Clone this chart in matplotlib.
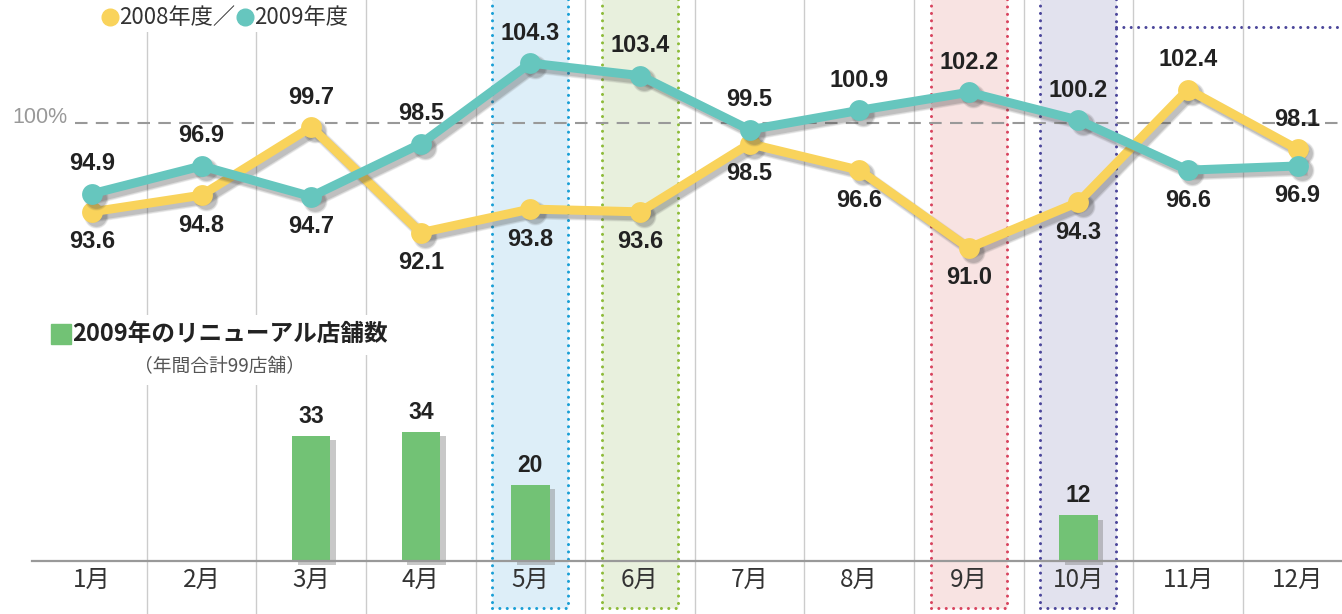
import matplotlib
matplotlib.use('Agg')
import numpy as np
import matplotlib.pyplot as plt
import matplotlib.transforms as mtransforms
import matplotlib.patheffects as pe
from matplotlib.patches import Rectangle

plt.rcParams['font.family'] = ['Liberation Sans', 'Noto Sans CJK JP']
JP = ['Noto Sans CJK JP', 'DejaVu Sans']

# ---- data ----
months = ['1月', '2月', '3月', '4月', '5月', '6月', '7月', '8月', '9月', '10月', '11月', '12月']
sales_2008 = [93.6, 94.8, 99.7, 92.1, 93.8, 93.6, 98.5, 96.6, 91.0, 94.3, 102.4, 98.1]
sales_2009 = [94.9, 96.9, 94.7, 98.5, 104.3, 103.4, 99.5, 100.9, 102.2, 100.2, 96.6, 96.9]
# label above (+1) or below (-1) the point
side_2008 = [-1, -1, 1, -1, -1, -1, -1, -1, -1, -1, 1, 1]
side_2009 = [1, 1, -1, 1, 1, 1, 1, 1, 1, 1, -1, -1]

renewal_months = ['3月', '4月', '5月', '10月']
renewal_counts = [33, 34, 20, 12]

highlight_months = ['5月', '6月', '9月', '10月']
highlight_fill = ['#ddeef8', '#e8f0dd', '#f8e3e2', '#e2e2ee']
highlight_edge = ['#1a9fd6', '#8dbb3a', '#d8445e', '#4b469a']

col_2008 = '#f9d35b'
col_2009 = '#66c6be'
col_bar = '#72c275'

W, H = 1342, 614
x = np.arange(len(months))
fig = plt.figure(figsize=(W / 100, H / 100), dpi=100)
ax = fig.add_axes([0, 0, 1, 1])
ax.set_xlim(-0.839, 11.405)
ax.set_ylim(-13.95, 147.6)
ax.axis('off')
ax2 = ax.twinx()
ax2.set_ylim(64.67, 108.84)
ax2.axis('off')

trans = mtransforms.blended_transform_factory(ax.transData, ax.transAxes)

# highlighted months
for m, fc, ec in zip(highlight_months, highlight_fill, highlight_edge):
    i = months.index(m)
    r = Rectangle((i - 0.347, 0.01), 0.694, 1.2, transform=trans, facecolor=fc,
                  edgecolor=ec, lw=2.2, linestyle=(0, (0.01, 2.4)), zorder=0.5)
    r.set_capstyle('round')
    ax.add_patch(r)
    if m == '10月':
        ax.plot([i + 0.347, 11.405], [0.956, 0.956], transform=trans, color=ec,
                lw=2.2, ls=(0, (0.01, 2.4)), dash_capstyle='round', zorder=0.5)

# month grid
for b in np.arange(0.5, 11.5, 1):
    ax.axvline(b, color='#cccccc', lw=1, zorder=1)

# white areas behind legend texts
for (x0, y0, x1, y1) in [(95, 0, 355, 32), (45, 315, 395, 355), (130, 355, 310, 385)]:
    ax.add_patch(Rectangle((x0 / W, 1 - y1 / H), (x1 - x0) / W, (y1 - y0) / H,
                           transform=ax.transAxes, facecolor='white', edgecolor='none', zorder=1.5))

# bars
bx = [months.index(m) for m in renewal_months]
ax.bar(bx, renewal_counts, width=0.35, color=col_bar, zorder=3,
       path_effects=[pe.SimplePatchShadow(offset=(4, -3), shadow_rgbFace='#777777', alpha=0.4), pe.Normal()])
for i, c in zip(bx, renewal_counts):
    ax.annotate(str(c), (i, c), xytext=(0, 8), textcoords='offset pixels', ha='center', va='bottom',
                fontsize=16.5, fontweight='bold', color='#222222', zorder=5)
ax.axhline(0, xmin=32 / W, color='#999999', lw=1.6, zorder=4)

for i, m in enumerate(months):
    ax.text(i, -5.0, m, ha='center', va='center', fontsize=17.5, color='#333333', family=JP, zorder=5)

# legend for bars
ax.plot([61 / W], [1 - 334 / H], 's', ms=14, color=col_bar, transform=ax.transAxes, zorder=5)
ax.text(72 / W, 1 - 334 / H, '2009年のリニューアル店舗数', transform=ax.transAxes, ha='left', va='center',
        fontsize=17, fontweight='bold', color='#222222', family=JP, zorder=5)
ax.text(220 / W, 1 - 367 / H, '（年間合計99店舗）', transform=ax.transAxes, ha='center', va='center',
        fontsize=13.5, color='#555555', family=JP, zorder=5)

# legend for lines
ax.plot([110 / W], [1 - 17 / H], 'o', ms=12, color=col_2008, transform=ax.transAxes, zorder=5)
ax.text(119 / W, 1 - 17 / H, '2008年度／', transform=ax.transAxes, ha='left', va='center',
        fontsize=16, color='#333333', family=JP, zorder=5)
ax.plot([245 / W], [1 - 17 / H], 'o', ms=12, color=col_2009, transform=ax.transAxes, zorder=5)
ax.text(254 / W, 1 - 17 / H, '2009年度', transform=ax.transAxes, ha='left', va='center',
        fontsize=16, color='#333333', family=JP, zorder=5)

# 100% reference
ax2.axhline(100, xmin=75 / W, color='#999999', lw=1.5, ls=(0, (6, 4)), zorder=1)
ax2.text(-0.474, 100, '100%', ha='center', va='baseline', fontsize=15.5, color='#999999', zorder=5)

# lines with a soft offset shadow
shift = mtransforms.ScaledTranslation(3 / 72, -3 / 72, fig.dpi_scale_trans)
for vals, col, z in [(sales_2008, col_2008, 3), (sales_2009, col_2009, 3.5)]:
    for k, a in [(2.5, 0.08), (1.5, 0.12), (0, 0.18)]:
        ax2.plot(x, vals, color='#444444', alpha=a, lw=6.5 + k, marker='o', ms=15 + k, mew=0,
                 transform=ax2.transData + shift, zorder=z - 0.1)
    ax2.plot(x, vals, color=col, lw=6.5, marker='o', ms=15, mew=0, zorder=z)

for vals, sides in [(sales_2008, side_2008), (sales_2009, side_2009)]:
    for i, (v, s) in enumerate(zip(vals, sides)):
        ax2.annotate(f'{v:.1f}', (i, v), xytext=(0, 30 * s), textcoords='offset pixels',
                     ha='center', va='center', fontsize=17, fontweight='bold', color='#222222', zorder=6)

fig.savefig('out.png', dpi=100)
